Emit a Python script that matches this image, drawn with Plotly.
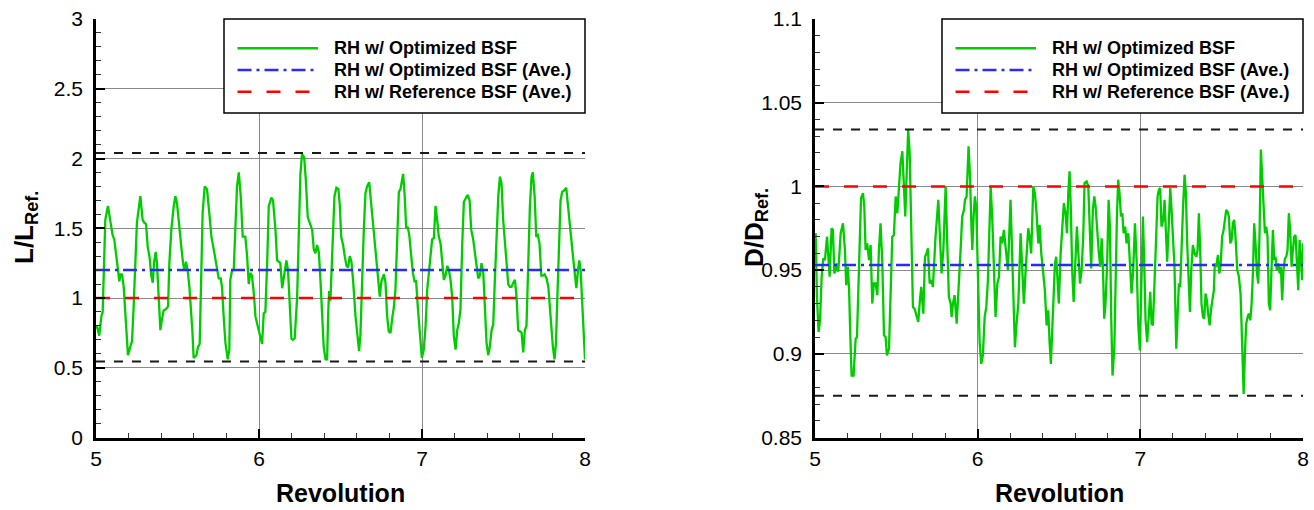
import plotly.graph_objects as go

W, H = 1314, 510          # browser window
OFF = 0                   # page margin removed by post_script below
FW, FH = W - OFF, H - OFF
FONT = "Liberation Sans, Arial, Helvetica, sans-serif"

# ---------------- data ----------------
L_X = [5.000, 5.006, 5.020, 5.033, 5.041, 5.051, 5.057, 5.073, 5.088, 5.102, 5.112, 5.125, 5.135, 5.143,
       5.151, 5.159, 5.170, 5.180, 5.196, 5.210, 5.221, 5.231, 5.241, 5.251, 5.272, 5.286, 5.296, 5.307,
       5.317, 5.329, 5.339, 5.348, 5.356, 5.366, 5.374, 5.384, 5.395, 5.405, 5.415, 5.429, 5.442, 5.450,
       5.462, 5.477, 5.487, 5.497, 5.511, 5.524, 5.534, 5.542, 5.552, 5.562, 5.573, 5.583, 5.591, 5.599,
       5.616, 5.626, 5.636, 5.646, 5.654, 5.667, 5.681, 5.695, 5.708, 5.722, 5.732, 5.745, 5.753, 5.765,
       5.773, 5.783, 5.794, 5.808, 5.818, 5.824, 5.835, 5.845, 5.855, 5.865, 5.876, 5.888, 5.900, 5.916,
       5.927, 5.937, 5.947, 5.957, 5.970, 5.978, 5.992, 6.004, 6.019,
       6.029, 6.039, 6.050, 6.060, 6.076, 6.086, 6.101, 6.111, 6.121, 6.131, 6.142, 6.152, 6.168, 6.178,
       6.189, 6.199, 6.207, 6.219, 6.234, 6.244, 6.254, 6.264, 6.277, 6.287, 6.299, 6.311, 6.326, 6.336,
       6.346, 6.356, 6.367, 6.377, 6.387, 6.397, 6.408, 6.418, 6.424, 6.430, 6.438, 6.447, 6.455, 6.463,
       6.475, 6.487, 6.496, 6.504, 6.516, 6.526, 6.537, 6.547, 6.557, 6.567, 6.577, 6.592, 6.602, 6.614,
       6.622, 6.633, 6.643, 6.653, 6.663, 6.676, 6.688, 6.700, 6.710, 6.721, 6.731, 6.741, 6.751, 6.766,
       6.776, 6.786, 6.796, 6.807, 6.819, 6.827, 6.837, 6.848, 6.858, 6.868, 6.878, 6.884, 6.893, 6.903,
       6.913, 6.923, 6.934, 6.944, 6.954, 6.964, 6.974, 6.987, 6.999,
       7.011, 7.022, 7.032, 7.042, 7.052, 7.062, 7.073, 7.083, 7.093, 7.103, 7.114, 7.124, 7.134, 7.144,
       7.155, 7.165, 7.175, 7.185, 7.195, 7.206, 7.216, 7.226, 7.236, 7.247, 7.257, 7.271, 7.281, 7.292,
       7.302, 7.314, 7.324, 7.335, 7.345, 7.355, 7.365, 7.376, 7.386, 7.396, 7.406, 7.416, 7.427, 7.437,
       7.447, 7.457, 7.468, 7.478, 7.488, 7.498, 7.508, 7.519, 7.529, 7.539, 7.549, 7.560, 7.570, 7.580,
       7.590, 7.601, 7.611, 7.621, 7.631, 7.641, 7.652, 7.662, 7.672, 7.680, 7.691, 7.701, 7.711, 7.721,
       7.732, 7.742, 7.752, 7.764, 7.775, 7.785, 7.795, 7.803, 7.813, 7.822, 7.830, 7.840, 7.850, 7.860,
       7.871, 7.885, 7.895, 7.906, 7.916, 7.926, 7.936, 7.947, 7.957, 7.965, 7.973, 7.983, 7.994, 8.000]
L_Y = [0.78, 0.80, 0.73, 0.87, 0.90, 1.25, 1.56, 1.66, 1.56, 1.45, 1.42, 1.27, 1.20, 1.12,
       1.17, 1.17, 1.08, 0.89, 0.59, 0.65, 0.69, 0.94, 1.20, 1.54, 1.73, 1.56, 1.54, 1.53,
       1.37, 1.29, 1.16, 1.11, 1.25, 1.33, 1.25, 1.01, 0.77, 0.85, 0.91, 0.92, 0.94, 1.25,
       1.49, 1.66, 1.73, 1.68, 1.49, 1.36, 1.25, 1.20, 1.26, 1.20, 1.08, 0.92, 0.77, 0.57,
       0.59, 0.65, 0.67, 1.18, 1.61, 1.80, 1.78, 1.61, 1.44, 1.35, 1.29, 1.21, 1.14, 1.14,
       1.08, 0.87, 0.68, 0.56, 0.63, 1.13, 1.20, 1.20, 1.58, 1.80, 1.90, 1.73, 1.44, 1.44,
       1.30, 1.10, 1.18, 1.16, 1.01, 0.87, 0.80, 0.75, 0.67,
       0.89, 0.90, 1.25, 1.66, 1.72, 1.70, 1.49, 1.27, 1.26, 1.25, 1.07, 1.16, 1.27, 1.20,
       0.94, 0.71, 0.70, 0.71, 1.01, 1.49, 1.89, 2.03, 2.01, 1.85, 1.58, 1.54, 1.49, 1.35,
       1.32, 1.38, 1.33, 1.13, 0.87, 0.65, 0.56, 0.56, 0.87, 1.05, 0.98, 1.20, 1.49, 1.73,
       1.79, 1.78, 1.66, 1.44, 1.38, 1.30, 1.23, 1.22, 1.30, 1.26, 1.13, 0.87, 0.73, 0.62,
       0.73, 1.16, 1.49, 1.75, 1.80, 1.83, 1.68, 1.49, 1.38, 1.25, 1.11, 1.01, 1.12, 1.17,
       1.11, 0.87, 0.76, 0.75, 0.87, 0.93, 1.06, 1.49, 1.76, 1.78, 1.85, 1.89, 1.75, 1.50,
       1.51, 1.44, 1.30, 1.18, 1.12, 1.12, 0.94, 0.73, 0.57,
       0.63, 0.80, 1.06, 1.19, 1.30, 1.42, 1.43, 1.66, 1.56, 1.44, 1.39, 1.27, 1.13, 1.16,
       1.23, 1.20, 1.13, 1.01, 0.73, 0.63, 0.77, 0.82, 0.92, 1.39, 1.69, 1.72, 1.74, 1.70,
       1.49, 1.42, 1.32, 1.25, 1.14, 1.16, 1.25, 1.18, 0.92, 0.68, 0.59, 0.65, 0.77, 0.81,
       1.13, 1.49, 1.73, 1.87, 1.82, 1.56, 1.42, 1.25, 1.10, 1.08, 1.08, 1.11, 1.13, 1.01,
       0.77, 0.76, 0.75, 0.61, 0.77, 0.80, 1.25, 1.66, 1.87, 1.90, 1.73, 1.44, 1.45, 1.39,
       1.16, 1.16, 1.17, 1.14, 1.08, 0.92, 0.77, 0.65, 0.56, 0.68, 0.99, 1.37, 1.70, 1.76,
       1.77, 1.79, 1.66, 1.49, 1.42, 1.30, 1.20, 1.07, 1.20, 1.27, 1.20, 0.94, 0.68, 0.56]

D_X = [5.000, 5.004, 5.012, 5.022, 5.031, 5.041, 5.051, 5.061, 5.074, 5.082, 5.090, 5.102, 5.110, 5.119,
       5.127, 5.135, 5.143, 5.158, 5.172, 5.184, 5.192, 5.201, 5.209, 5.217, 5.225, 5.237, 5.250, 5.258,
       5.270, 5.283, 5.295, 5.303, 5.311, 5.321, 5.332, 5.342, 5.352, 5.362, 5.373, 5.383, 5.393, 5.403,
       5.414, 5.424, 5.434, 5.442, 5.455, 5.467, 5.475, 5.485, 5.496, 5.506, 5.516, 5.526, 5.537, 5.547,
       5.555, 5.563, 5.573, 5.582, 5.592, 5.602, 5.612, 5.623, 5.635, 5.645, 5.653, 5.666, 5.676, 5.686,
       5.694, 5.705, 5.715, 5.725,
       5.741, 5.758, 5.768, 5.778, 5.789, 5.803, 5.813, 5.823, 5.834, 5.840, 5.848, 5.858, 5.871, 5.881,
       5.895, 5.905, 5.916, 5.922, 5.932, 5.944, 5.953, 5.961, 5.967, 5.975, 5.983, 5.991, 6.002, 6.012,
       6.022, 6.032, 6.043, 6.053, 6.063, 6.080, 6.090, 6.100, 6.110, 6.121, 6.131, 6.141, 6.151, 6.161,
       6.172, 6.186, 6.202, 6.213, 6.223, 6.229, 6.239, 6.250, 6.264, 6.274, 6.284, 6.295, 6.311, 6.319,
       6.329, 6.342, 6.352, 6.362, 6.373, 6.381, 6.391, 6.403, 6.413, 6.424, 6.434, 6.442, 6.450,
       6.465, 6.475, 6.483, 6.491, 6.499, 6.510, 6.520, 6.530, 6.540, 6.549, 6.557, 6.565, 6.573, 6.581,
       6.590, 6.598, 6.610, 6.618, 6.629, 6.639, 6.649, 6.657, 6.670, 6.680, 6.690, 6.698, 6.708, 6.717,
       6.725, 6.735, 6.745, 6.754, 6.762, 6.770, 6.778, 6.786, 6.796, 6.805, 6.813, 6.821, 6.829, 6.840,
       6.848, 6.856, 6.864, 6.872, 6.881, 6.889, 6.897, 6.907, 6.915, 6.926, 6.936, 6.946, 6.956, 6.967,
       6.977, 6.987, 6.997, 7.008, 7.016, 7.024, 7.032, 7.042, 7.053, 7.061, 7.069, 7.077, 7.087, 7.098,
       7.106, 7.114, 7.122, 7.130, 7.141, 7.149, 7.157, 7.165, 7.176, 7.184, 7.192, 7.202, 7.210,
       7.221, 7.229, 7.237, 7.245, 7.253, 7.262, 7.272, 7.280, 7.288, 7.297, 7.305, 7.313, 7.323, 7.333,
       7.344, 7.352, 7.360, 7.368, 7.376, 7.385, 7.393, 7.401, 7.409, 7.417, 7.426, 7.434, 7.442, 7.452,
       7.458, 7.467, 7.477, 7.485, 7.493, 7.503, 7.512, 7.520, 7.528, 7.536, 7.544, 7.553, 7.561, 7.569,
       7.577, 7.585, 7.596, 7.606, 7.616, 7.622, 7.628, 7.635, 7.643, 7.651, 7.659, 7.667, 7.676, 7.684,
       7.692, 7.700, 7.708, 7.717, 7.725, 7.733, 7.741, 7.749, 7.758, 7.766, 7.774, 7.782, 7.790, 7.798,
       7.807, 7.815, 7.823, 7.831, 7.839, 7.848, 7.856, 7.864, 7.872, 7.880, 7.889, 7.897, 7.905, 7.913,
       7.921, 7.930, 7.938, 7.946, 7.954, 7.962, 7.971, 7.979, 7.987, 7.995, 8.000]
D_Y = [0.970, 0.972, 0.934, 0.913, 0.920, 0.946, 0.957, 0.956, 0.970, 0.960, 0.946, 0.975, 0.974, 0.948,
       0.950, 0.954, 0.949, 0.972, 0.978, 0.962, 0.941, 0.952, 0.940, 0.911, 0.887, 0.887, 0.909, 0.910,
       0.950, 0.993, 0.996, 0.988, 0.962, 0.966, 0.956, 0.965, 0.930, 0.942, 0.942, 0.935, 0.962, 0.978,
       0.954, 0.911, 0.910, 0.899, 0.903, 0.948, 0.970, 0.971, 0.994, 0.984, 0.998, 1.014, 1.021, 0.996,
       0.982, 1.006, 1.034, 1.020, 0.962, 0.928, 0.927, 0.923, 0.919, 0.932, 0.940, 0.924, 0.958, 0.960,
       0.963, 0.942, 0.944, 0.940,
       0.970, 0.992, 0.966, 0.948, 0.962, 1.000, 0.966, 0.934, 0.930, 0.922, 0.930, 0.935, 0.918, 0.934,
       0.962, 0.982, 0.986, 0.992, 0.994, 1.024, 1.006, 0.978, 0.962, 0.982, 0.994, 0.988, 0.946, 0.907,
       0.894, 0.899, 0.922, 0.928, 0.944, 1.000, 0.980, 0.946, 0.922, 0.942, 0.946, 0.970, 0.966, 0.974,
       0.962, 0.950, 0.992, 0.954, 0.917, 0.904, 0.918, 0.930, 0.972, 0.950, 0.930, 0.950, 0.975, 0.970,
       0.960, 1.000, 0.996, 0.984, 0.966, 0.977, 0.960, 0.948, 0.938, 0.917, 0.926, 0.907, 0.894,
       0.930, 0.954, 0.958, 0.942, 0.930, 0.960, 0.976, 0.990, 0.984, 0.972, 0.996, 1.009, 0.986, 0.950,
       0.931, 0.946, 0.976, 0.962, 0.942, 0.950, 0.970, 1.002, 1.003, 1.000, 0.970, 0.951, 0.986, 0.994,
       0.988, 0.970, 0.960, 0.952, 0.969, 0.952, 0.921, 0.930, 0.954, 0.992, 0.976, 0.922, 0.887, 0.903,
       0.946, 0.982, 1.004, 0.996, 0.982, 0.984, 0.972, 0.976, 0.966, 0.972, 0.954, 0.936, 0.950, 0.978,
       0.956, 0.918, 0.902, 0.942, 0.982, 0.954, 0.920, 0.907, 0.924, 0.937, 0.918, 0.917, 0.942, 0.976,
       0.994, 0.998, 0.999, 0.976, 0.980, 0.992, 0.972, 0.955, 0.980, 0.999, 0.986, 0.966, 0.952,
       0.903, 0.926, 0.942, 0.940, 0.966, 0.986, 1.007, 0.996, 0.966, 0.940, 0.925, 0.950, 0.965, 0.960,
       0.958, 0.962, 0.984, 0.962, 0.930, 0.922, 0.921, 0.936, 0.932, 0.924, 0.917, 0.926, 0.932, 0.938,
       0.954, 0.952, 0.959, 0.948, 0.952, 0.970, 0.974, 0.979, 0.986, 0.985, 0.982, 0.966, 0.968, 0.978,
       0.980, 0.970, 0.950, 0.946, 0.936, 0.918, 0.895, 0.876, 0.901, 0.918, 0.922, 0.924, 0.920, 0.930,
       0.948, 0.978, 0.966, 0.948, 0.942, 0.972, 1.022, 1.006, 0.980, 0.972, 0.976, 0.970, 0.930, 0.926,
       0.952, 0.974, 0.956, 0.958, 0.950, 0.954, 0.948, 0.952, 0.932, 0.950, 0.957, 0.958, 0.962, 0.984,
       0.974, 0.952, 0.962, 0.970, 0.971, 0.956, 0.938, 0.968, 0.952, 0.944, 0.966]

X_SPAN = [5, 8]
L_MAX, L_MIN = 2.04, 0.545
L_AVE_OPT, L_AVE_REF = 1.2, 1.0
D_MAX, D_MIN = 1.034, 0.875
D_AVE_OPT, D_AVE_REF = 0.953, 1.0

X_TICKS = [5, 6, 7, 8]
X_TICK_TEXT = ["5", "6", "7", "8"]
L_TICKS = [0, 0.5, 1, 1.5, 2, 2.5, 3]
L_TICK_TEXT = ["0", "0.5", "1", "1.5", "2", "2.5", "3"]
D_TICKS = [0.85, 0.9, 0.95, 1.0, 1.05, 1.1]
D_TICK_TEXT = ["0.85", "0.9", "0.95", "1", "1.05", "1.1"]
LEGEND_NAMES = ["RH w/ Optimized BSF", "RH w/ Optimized BSF (Ave.)", "RH w/ Reference BSF (Ave.)"]

# ---------------- styles ----------------
GREEN = "#00cc00"
BLUE = "#2a2aff"
RED = "#ff0000"
BLACK = "#1a1a1a"
BLUE_DASH = "14px,5px,3px,5px"
RED_DASH = "14px,15px"
BLACK_DASH = "9px,9px"


def px(x):
    """window pixel x -> paper fraction"""
    return (x - OFF) / FW


def py(y):
    """window pixel y -> paper fraction"""
    return 1 - (y - OFF) / FH


PANELS = [
    dict(x0=96, x1=585, xs="x", ys="y", X=L_X, Y=L_Y, mx=L_MAX, mn=L_MIN, ao=L_AVE_OPT, ar=L_AVE_REF),
    dict(x0=815, x1=1303, xs="x2", ys="y2", X=D_X, Y=D_Y, mx=D_MAX, mn=D_MIN, ao=D_AVE_OPT, ar=D_AVE_REF),
]
Y_TOP, Y_BOT = 19, 437.5

fig = go.Figure()
for p in PANELS:
    fig.add_trace(go.Scatter(x=p["X"], y=p["Y"], mode="lines", xaxis=p["xs"], yaxis=p["ys"],
                             line=dict(color=GREEN, width=2.3), showlegend=False, hoverinfo="skip"))
    fig.add_trace(go.Scatter(x=X_SPAN, y=[p["ao"]] * 2, mode="lines", xaxis=p["xs"], yaxis=p["ys"],
                             line=dict(color=BLUE, width=2.5, dash=BLUE_DASH), showlegend=False))
    fig.add_trace(go.Scatter(x=X_SPAN, y=[p["ar"]] * 2, mode="lines", xaxis=p["xs"], yaxis=p["ys"],
                             line=dict(color=RED, width=2.5, dash=RED_DASH), showlegend=False))
    for v in (p["mx"], p["mn"]):
        fig.add_trace(go.Scatter(x=X_SPAN, y=[v] * 2, mode="lines", xaxis=p["xs"], yaxis=p["ys"],
                                 line=dict(color=BLACK, width=2, dash=BLACK_DASH), showlegend=False))

common_axis = dict(
    showline=True, linecolor="black", linewidth=2.5, mirror=False,
    showgrid=True, gridcolor="#8a8a8a", gridwidth=1, zeroline=False,
    ticks="inside", ticklen=9, tickwidth=2, tickcolor="black",
    tickfont=dict(family=FONT, size=21, color="black"),
    ticklabeloverflow="allow",
)

layout_axes = {}
for i, p in enumerate(PANELS):
    sfx = "" if i == 0 else "2"
    layout_axes["xaxis" + sfx] = dict(
        common_axis, domain=[px(p["x0"]), px(p["x1"])], range=X_SPAN, anchor="y" + sfx,
        tickvals=X_TICKS, ticktext=X_TICK_TEXT, ticklabelstandoff=1,
        minor=dict(ticks="inside", ticklen=5, tickwidth=1, tickcolor="#333", dtick=0.2, tick0=5, showgrid=False),
    )
    if i == 0:
        yv, yt, yr, md = L_TICKS, L_TICK_TEXT, [0, 3], 0.1
    else:
        yv, yt, yr, md = D_TICKS, D_TICK_TEXT, [0.85, 1.1], 0.01
    layout_axes["yaxis" + sfx] = dict(
        common_axis, domain=[py(Y_BOT), py(Y_TOP)], range=yr, anchor="x" + sfx,
        tickvals=yv, ticktext=yt, ticklabelstandoff=6,
        minor=dict(ticks="inside", ticklen=5, tickwidth=1, tickcolor="#333", dtick=md, tick0=yr[0], showgrid=False),
    )

shapes = []
annotations = []
for p in PANELS:
    # legend box
    lx0 = p["x1"] - 361
    shapes.append(dict(type="rect", xref="paper", yref="paper", x0=px(lx0), x1=px(p["x1"]),
                       y0=py(113), y1=py(Y_TOP), line=dict(color="black", width=1.5),
                       fillcolor="white", layer="above"))
    rows = [48.3, 70, 91.7]
    styles = [dict(color=GREEN, width=2.5), dict(color=BLUE, width=2.5, dash=BLUE_DASH),
              dict(color=RED, width=2.5, dash=RED_DASH)]
    for r, st, name in zip(rows, styles, LEGEND_NAMES):
        shapes.append(dict(type="line", xref="paper", yref="paper", x0=px(lx0 + 13.5), x1=px(lx0 + 94),
                           y0=py(r), y1=py(r), line=st, layer="above"))
        annotations.append(dict(xref="paper", yref="paper", x=px(lx0 + 108), y=py(r), text="<b>" + name + "</b>",
                                showarrow=False, xanchor="left", yanchor="middle",
                                font=dict(family=FONT, size=18, color="black")))
    annotations.append(dict(xref="paper", yref="paper", x=px((p["x0"] + p["x1"]) / 2), y=py(493),
                            text="<b>Revolution</b>", showarrow=False, xanchor="center", yanchor="middle",
                            font=dict(family=FONT, size=25, color="black")))

annotations.append(dict(xref="paper", yref="paper", x=px(26), y=py(228), text="<b>L/L<sub>Ref.</sub></b>",
                        showarrow=False, textangle=-90, xanchor="center", yanchor="middle",
                        font=dict(family=FONT, size=26, color="black")))
annotations.append(dict(xref="paper", yref="paper", x=px(756), y=py(228), text="<b>D/D<sub>Ref.</sub></b>",
                        showarrow=False, textangle=-90, xanchor="center", yanchor="middle",
                        font=dict(family=FONT, size=26, color="black")))

fig.update_layout(
    width=FW, height=FH, margin=dict(l=0, r=0, t=0, b=0, autoexpand=False),
    paper_bgcolor="white", plot_bgcolor="white", showlegend=False,
    font=dict(family=FONT, color="black"),
    shapes=shapes, annotations=annotations, **layout_axes,
)

fig.write_html("out.html",
               config={"displayModeBar": False},
               post_script="document.body.style.margin='0';document.body.style.overflow='hidden';")
